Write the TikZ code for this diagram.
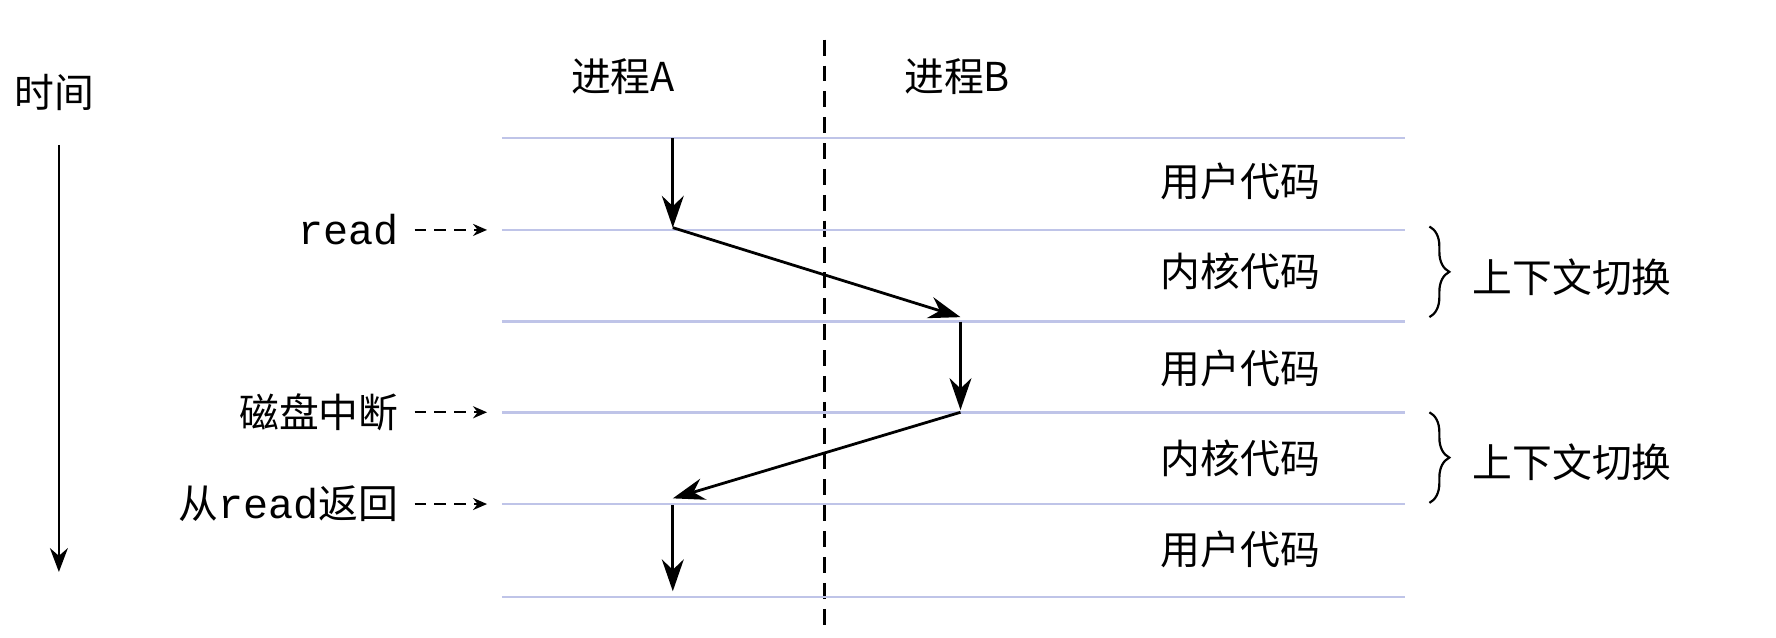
\documentclass[tikz,border=0pt]{standalone}
\usepackage{fontspec}
\setmainfont{Liberation Serif}
\setmonofont{Liberation Mono}
\newfontfamily\cjk{Noto Sans CJK SC}
\usetikzlibrary{arrows.meta,decorations.pathreplacing}
\begin{document}
\begin{tikzpicture}[x=0.02cm,y=-0.02cm,
  lane/.style={draw=cyan!30!blue!25, line width=1.3pt},
  flow/.style={line width=1.4pt,-{Stealth[length=16pt,width=11pt]}},
  pointer/.style={line width=1.2pt,dash pattern=on 6pt off 4pt,-{Stealth[length=7pt,width=6pt]}},
  txt/.style={font=\cjk\fontsize{20}{24}\selectfont},
  lbl/.style={txt,anchor=east}]
\useasboundingbox (0,0) rectangle (1568,563);
\node[txt] (time) at (48,82) {时间};
\coordinate (t1) at (52,128); \coordinate (t2) at (52,505);
\draw[line width=1.3pt,-{Stealth[length=12pt,width=9pt]}] (t1) -- (t2);
\coordinate (d1) at (728,35); \coordinate (d2) at (728,555);
\draw[line width=1.2pt,dash pattern=on 8pt off 5pt] (d1) -- (d2);
\node[txt] (pa) at (550,68) {进程A};
\node[txt] (pb) at (845,68) {进程B};
\foreach \i/\y in {0/122,1/203,2/284,3/364,4/445,5/527}{
  \coordinate (l\i) at (443,\y); \coordinate (r\i) at (1240,\y);
  \draw[lane] (l\i) -- (r\i);}
\coordinate (a0) at (594,122); \coordinate (a1) at (594,201);
\coordinate (a2) at (848,280); \coordinate (b2) at (848,284);
\coordinate (b3) at (848,362); \coordinate (a3) at (848,364);
\coordinate (a4) at (594,440); \coordinate (b4) at (594,446);
\coordinate (a5) at (594,522);
\draw[flow] (a0) -- (a1);
\draw[flow] (a1) -- (a2);
\draw[flow] (b2) -- (b3);
\draw[flow] (a3) -- (a4);
\draw[flow] (b4) -- (a5);
\node[txt] (u1) at (1095,160) {用户代码};
\node[txt] (k1) at (1095,240) {内核代码};
\node[txt] (u2) at (1095,325) {用户代码};
\node[txt] (k2) at (1095,405) {内核代码};
\node[txt] (u3) at (1095,485) {用户代码};
\draw[decorate,decoration={brace,amplitude=10pt},line width=1.1pt] (1262,200) -- (1262,280) coordinate[midway] (br1);
\draw[decorate,decoration={brace,amplitude=10pt},line width=1.1pt] (1262,364) -- (1262,444) coordinate[midway] (br2);
\node[txt,anchor=west] (c1) at (1294,245) {上下文切换};
\node[txt,anchor=west] (c2) at (1294,408) {上下文切换};
\node[anchor=east,font=\ttfamily\fontsize{21}{24}\selectfont] (rd) at (358,203) {read};
\node[lbl] (int) at (358,364) {磁盘中断};
\node[lbl] (ret) at (358,445) {从{\ttfamily\fontsize{21}{24}\selectfont read}返回};
\foreach \y/\n in {203/p1,364/p2,445/p3}{
  \coordinate (\n s) at (366,\y); \coordinate (\n e) at (430,\y);
  \draw[pointer] (\n s) -- (\n e);}
\end{tikzpicture}
\end{document}
